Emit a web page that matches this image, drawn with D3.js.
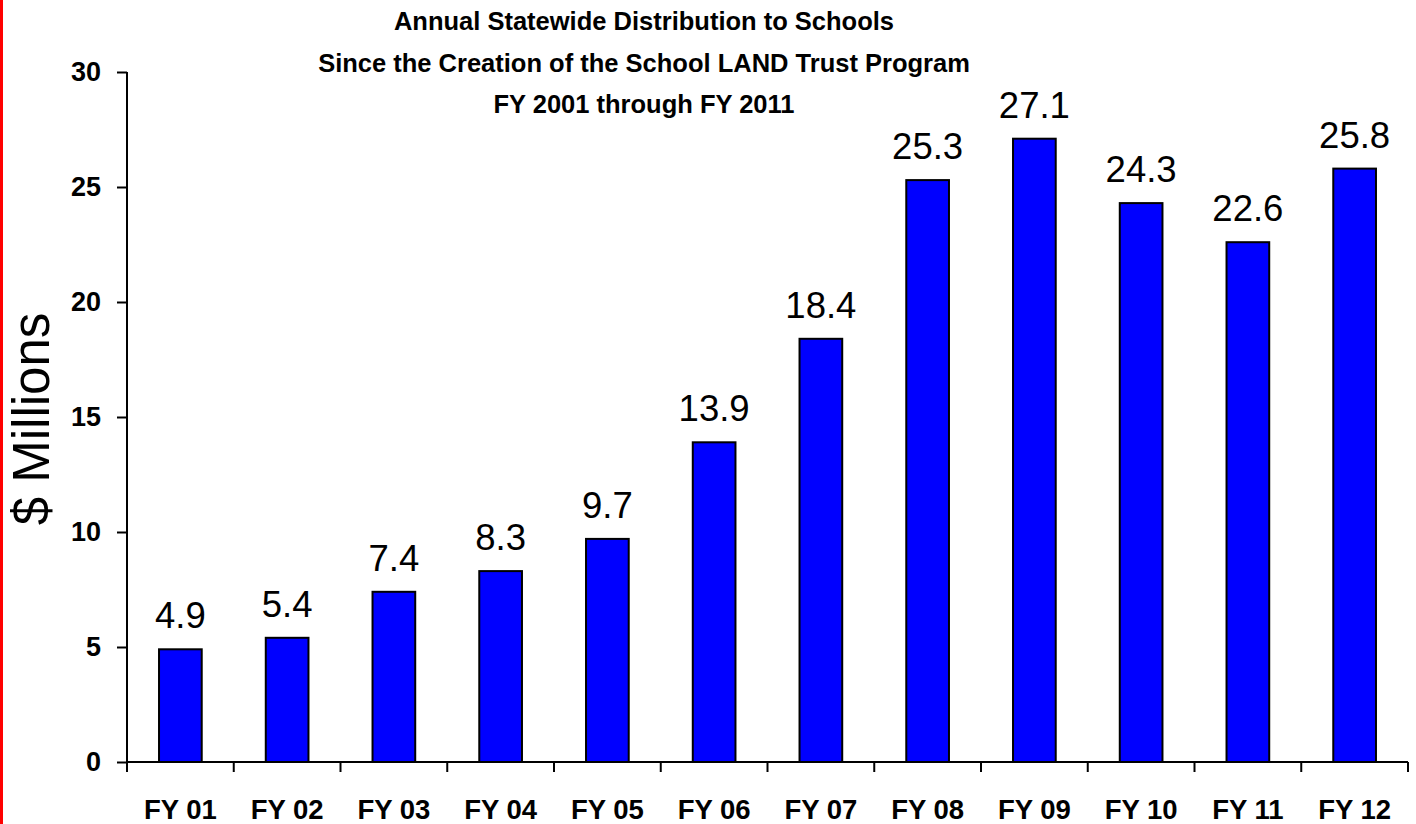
<!DOCTYPE html>
<html>
<head>
<meta charset="utf-8">
<script src="https://cdn.jsdelivr.net/npm/d3@7/dist/d3.min.js"></script>
<style>
  body { margin: 0; background: #fff; }
  svg { display: block; font-family: "Liberation Sans", Arial, sans-serif; }
</style>
</head>
<body>
<script>
var years = ["FY 01", "FY 02", "FY 03", "FY 04", "FY 05", "FY 06", "FY 07", "FY 08", "FY 09", "FY 10", "FY 11", "FY 12"];
var values = [4.9, 5.4, 7.4, 8.3, 9.7, 13.9, 18.4, 25.3, 27.1, 24.3, 22.6, 25.8];
var yTicks = [0, 5, 10, 15, 20, 25, 30];
var titleLines = ["Annual Statewide Distribution to Schools", "Since the Creation of the School LAND Trust Program", "FY 2001 through FY 2011"];

var w = 1416, h = 824;
var plotLeft = 127, plotRight = 1408, plotTop = 72, plotBottom = 762;

var svg = d3.select("body").append("svg")
  .attr("width", w)
  .attr("height", h);

// red strip on the left edge
svg.append("rect")
  .attr("x", 0).attr("y", 0)
  .attr("width", 3).attr("height", h)
  .attr("fill", "#ff0000");

var x = d3.scaleBand().domain(years).range([plotLeft, plotRight]).paddingInner(0.6).paddingOuter(0.3);
var xStep = d3.scaleBand().domain(years).range([plotLeft, plotRight]);
var y = d3.scaleLinear().domain([0, 30]).range([plotBottom, plotTop]);

// title
svg.append("g").selectAll("text")
  .data(titleLines)
  .enter().append("text")
  .attr("x", 644)
  .attr("y", function (d, i) { return 30 + i * 41.5; })
  .attr("text-anchor", "middle")
  .attr("font-weight", "bold")
  .attr("font-size", "25.5px")
  .text(function (d) { return d; });

// bars
svg.append("g").selectAll("rect")
  .data(values)
  .enter().append("rect")
  .attr("x", function (d, i) { return x(years[i]); })
  .attr("y", function (d) { return y(d); })
  .attr("width", x.bandwidth())
  .attr("height", function (d) { return y(0) - y(d); })
  .attr("fill", "#0000ff")
  .attr("stroke", "#000")
  .attr("stroke-width", 2);

// value labels
svg.append("g").selectAll("text")
  .data(values)
  .enter().append("text")
  .attr("x", function (d, i) { return x(years[i]) + x.bandwidth() / 2; })
  .attr("y", function (d) { return y(d) - 21; })
  .attr("text-anchor", "middle")
  .attr("font-size", "36.5px")
  .text(function (d) { return d.toFixed(1); });

// y axis
var yAxis = d3.axisLeft(y).tickValues(yTicks).tickSize(10).tickPadding(16);
var gy = svg.append("g")
  .attr("transform", "translate(" + plotLeft + ",0)")
  .call(yAxis);
gy.select(".domain").attr("stroke-width", 2).attr("d", "M0," + plotTop + "V" + plotBottom);
gy.selectAll(".tick line").attr("stroke-width", 2);
gy.selectAll(".tick text")
  .attr("font-size", "27px")
  .attr("font-weight", "bold")
  .attr("font-family", "Liberation Sans, Arial, sans-serif");

// x axis: ticks between categories
var boundaries = years.map(function (d) { return xStep(d); }).concat([plotRight]);
var gx = svg.append("g").attr("transform", "translate(0," + plotBottom + ")");
gx.append("path")
  .attr("d", "M" + plotLeft + ",0H" + plotRight)
  .attr("stroke", "#000")
  .attr("stroke-width", 2);
gx.selectAll("line")
  .data(boundaries)
  .enter().append("line")
  .attr("x1", function (d) { return d; })
  .attr("x2", function (d) { return d; })
  .attr("y1", 0).attr("y2", 10)
  .attr("stroke", "#000")
  .attr("stroke-width", 2);
gx.selectAll("text")
  .data(years)
  .enter().append("text")
  .attr("x", function (d) { return xStep(d) + xStep.bandwidth() / 2; })
  .attr("y", 57)
  .attr("text-anchor", "middle")
  .attr("font-size", "27.5px")
  .attr("font-weight", "bold")
  .text(function (d) { return d; });

// y axis title
svg.append("text")
  .attr("transform", "translate(49,419) rotate(-90)")
  .attr("text-anchor", "middle")
  .attr("font-size", "51px")
  .text("$ Millions");
</script>
</body>
</html>
